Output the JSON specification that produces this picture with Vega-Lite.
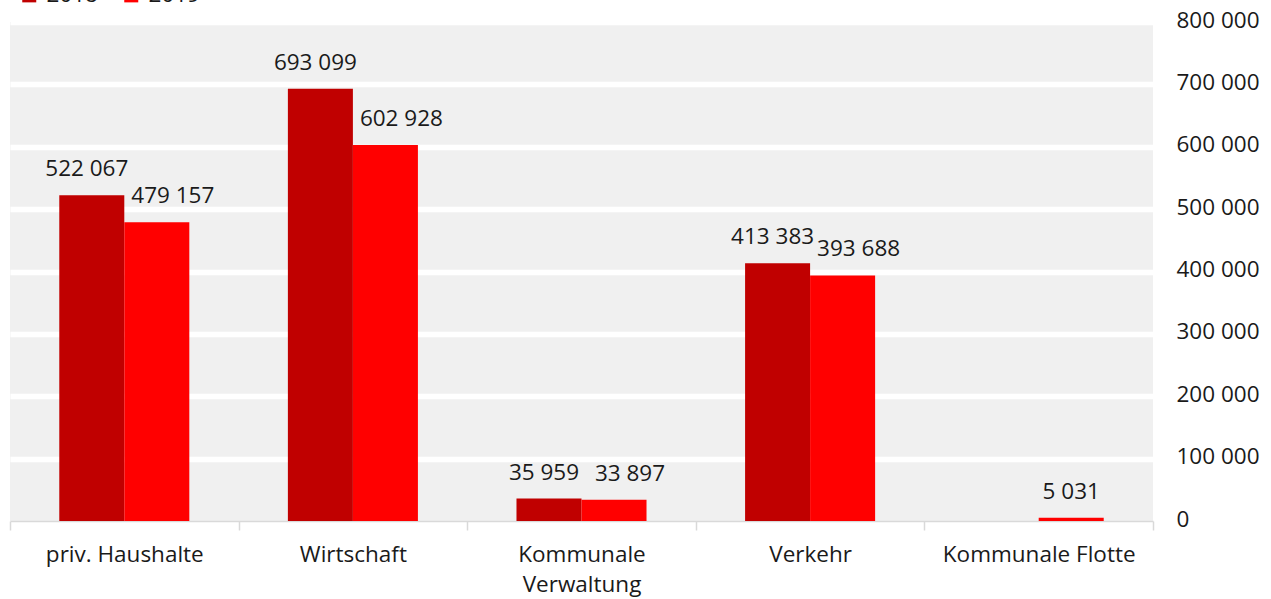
{
  "$schema": "https://vega.github.io/schema/vega-lite/v6.json",
  "width": 1143,
  "height": 499,
  "autosize": {"type": "none"},
  "padding": {"left": 10, "top": 22, "right": 118, "bottom": 78},
  "background": "white",
  "config": {
    "font": "Open Sans",
    "locale": {"number": {"decimal": ",", "thousands": " ", "grouping": [3], "currency": ["", " €"]}},
    "view": {"fill": "#f0f0f0", "stroke": null}
  },
  "data": {
    "values": [
      {"Bereich": "priv. Haushalte", "Jahr": "2018", "Wert": 522067},
      {"Bereich": "priv. Haushalte", "Jahr": "2019", "Wert": 479157},
      {"Bereich": "Wirtschaft", "Jahr": "2018", "Wert": 693099},
      {"Bereich": "Wirtschaft", "Jahr": "2019", "Wert": 602928},
      {"Bereich": "Kommunale Verwaltung", "Jahr": "2018", "Wert": 35959},
      {"Bereich": "Kommunale Verwaltung", "Jahr": "2019", "Wert": 33897},
      {"Bereich": "Verkehr", "Jahr": "2018", "Wert": 413383},
      {"Bereich": "Verkehr", "Jahr": "2019", "Wert": 393688},
      {"Bereich": "Kommunale Flotte", "Jahr": "2019", "Wert": 5031}
    ]
  },
  "encoding": {
    "x": {
      "field": "Bereich",
      "type": "nominal",
      "sort": ["priv. Haushalte", "Wirtschaft", "Kommunale Verwaltung", "Verkehr", "Kommunale Flotte"],
      "scale": {"paddingInner": 0, "paddingOuter": 0},
      "axis": {
        "title": null,
        "labelAngle": 0,
        "labelFontSize": 22.5,
        "labelColor": "#1a1a1a",
        "labelPadding": 13,
        "labelLineHeight": 30,
        "labelLimit": 0,
        "labelExpr": "datum.label == 'Kommunale Verwaltung' ? ['Kommunale', 'Verwaltung'] : datum.label",
        "domainColor": "#d9d9d9",
        "domainWidth": 1.5,
        "tickColor": "#d9d9d9",
        "tickWidth": 1.5,
        "tickSize": 9,
        "tickBand": "extent",
        "grid": false
      }
    },
    "xOffset": {"field": "Jahr", "type": "nominal", "scale": {"domain": ["2018", "2019"], "paddingInner": 0, "paddingOuter": 0.758}},
    "y": {
      "field": "Wert",
      "type": "quantitative",
      "scale": {"domain": [0, 800000], "nice": false},
      "axis": {
        "title": null,
        "orient": "right",
        "domain": false,
        "ticks": false,
        "values": [0, 100000, 200000, 300000, 400000, 500000, 600000, 700000, 800000],
        "format": ",d",
        "labelFontSize": 22.5,
        "labelColor": "#1a1a1a",
        "labelPadding": 23,
        "labelOffset": -2,
        "labelAlign": "left",
        "grid": true,
        "gridColor": "white",
        "gridWidth": 5.5,
        "gridOpacity": {"condition": {"test": "datum.value == 0", "value": 0}, "value": 1}
      }
    }
  },
  "layer": [
    {
      "mark": {"type": "bar"},
      "encoding": {
        "color": {
          "field": "Jahr",
          "type": "nominal",
          "scale": {"domain": ["2018", "2019"], "range": ["#c00000", "#ff0000"]},
          "legend": {
            "title": null,
            "orient": "none",
            "legendX": 8,
            "legendY": -38,
            "direction": "horizontal",
            "symbolType": "square",
            "symbolSize": 196,
            "symbolStrokeWidth": 0,
            "labelFontSize": 22.5,
            "labelColor": "#1a1a1a",
            "labelOffset": 6,
            "columnPadding": 22,
            "padding": 0
          }
        }
      }
    },
    {
      "transform": [{"filter": "datum.Jahr == '2018'"}],
      "mark": {"type": "text", "dy": -19, "dx": -5, "baseline": "alphabetic", "fontSize": 22.5, "color": "#1a1a1a"},
      "encoding": {"text": {"field": "Wert", "type": "quantitative", "format": ",d"}}
    },
    {
      "transform": [{"filter": "datum.Jahr == '2019' && datum.Bereich != 'Kommunale Flotte'"}],
      "mark": {"type": "text", "dy": -19, "dx": 16, "baseline": "alphabetic", "fontSize": 22.5, "color": "#1a1a1a"},
      "encoding": {"text": {"field": "Wert", "type": "quantitative", "format": ",d"}}
    },
    {
      "transform": [{"filter": "datum.Bereich == 'Kommunale Flotte'"}],
      "mark": {"type": "text", "dy": -19, "baseline": "alphabetic", "fontSize": 22.5, "color": "#1a1a1a"},
      "encoding": {"text": {"field": "Wert", "type": "quantitative", "format": ",d"}}
    }
  ]
}
